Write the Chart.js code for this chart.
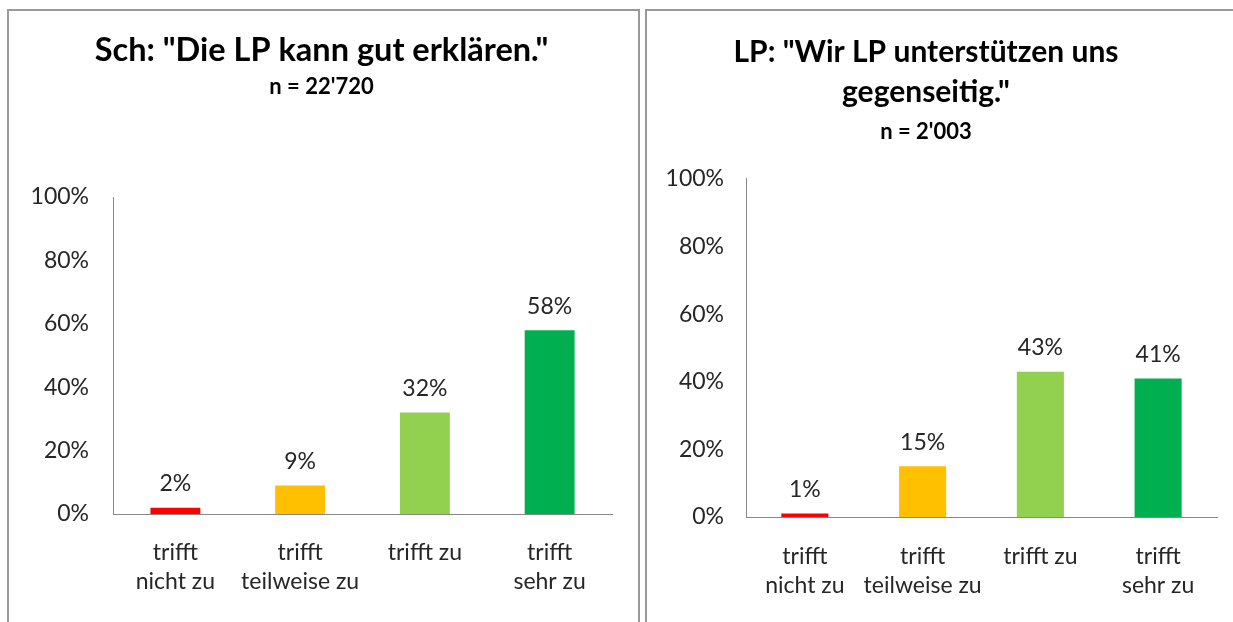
<!DOCTYPE html>
<html>
<head>
<meta charset="utf-8">
<script src="https://cdn.jsdelivr.net/npm/chart.js@4"></script>
<style>
    html, body { margin: 0; padding: 0; background: #fff; }
    body { width: 1233px; height: 622px; position: relative; overflow: hidden; }
    .frame { position: absolute; border: 2px solid #999; border-bottom: none; z-index: 2; pointer-events: none; }
    #frameLeft { left: 7px; top: 9px; width: 629px; height: 620px; }
    #frameRight { left: 645px; top: 9px; width: 600px; height: 620px; border-right: none; }
    .box { position: absolute; top: 0; height: 622px; }
    #boxLeft { left: 0; width: 642px; }
    #boxRight { left: 630px; width: 603px; }
</style>
</head>
<body>
<div class="frame" id="frameLeft"></div>
<div class="frame" id="frameRight"></div>
<div class="box" id="boxLeft"><canvas id="chartSch"></canvas></div>
<div class="box" id="boxRight"><canvas id="chartLp"></canvas></div>
<script>
const categories = [['trifft', 'nicht zu'], ['trifft', 'teilweise zu'], 'trifft zu', ['trifft', 'sehr zu']];
const schValues = [2, 9, 32, 58];
const lpValues = [1, 15, 43, 41];
const barColors = ['#FF0000', '#FFC000', '#92D050', '#00B050'];

const fontFamily = 'Lato, "Open Sans", sans-serif';
const textColor = '#262626';

// draws the percent label above each bar
const valueLabels = {
    id: 'valueLabels',
    afterDatasetsDraw(chart) {
        const ctx = chart.ctx;
        const meta = chart.getDatasetMeta(0);
        ctx.save();
        ctx.font = '23px ' + fontFamily;
        ctx.fillStyle = textColor;
        ctx.textAlign = 'center';
        ctx.textBaseline = 'middle';
        meta.data.forEach((bar, i) => {
            ctx.fillText(chart.data.datasets[0].data[i] + '%', bar.x, bar.y - 24);
        });
        ctx.restore();
    }
};

function buildBarChart(canvasId, values, cfg) {
    const chartCtx = document.getElementById(canvasId).getContext('2d');

    return new Chart(chartCtx, {
        type: 'bar',
        data: {
            labels: categories,
            datasets: [{
                data: values,
                backgroundColor: barColors,
                borderWidth: 0,
                barPercentage: 0.4,
                categoryPercentage: 1
            }]
        },
        options: {
            responsive: true,
            maintainAspectRatio: false,
            animation: false,
            layout: {
                padding: { left: cfg.padLeft, right: cfg.padRight, top: 0, bottom: 0 }
            },
            plugins: {
                legend: { display: false },
                tooltip: { enabled: false },
                title: {
                    display: true,
                    text: cfg.title,
                    color: '#000',
                    font: { family: fontFamily, size: cfg.titleSize, weight: 'bold', lineHeight: cfg.titleLineHeight },
                    padding: { top: cfg.titleTop, bottom: 0 }
                },
                subtitle: {
                    display: true,
                    text: cfg.subtitle,
                    color: '#000',
                    font: { family: fontFamily, size: 22, weight: 'bold', lineHeight: 1.2 },
                    padding: { top: cfg.subTop, bottom: cfg.subBottom }
                }
            },
            scales: {
                x: {
                    grid: { display: false, drawTicks: false },
                    border: { display: true, color: '#888', width: 1 },
                    ticks: {
                        color: textColor,
                        padding: cfg.xPad,
                        font: { family: fontFamily, size: 23, lineHeight: 1.26 },
                        autoSkip: false,
                        maxRotation: 0,
                        minRotation: 0
                    },
                    afterFit: scale => { scale.height = cfg.xHeight; }
                },
                y: {
                    min: 0,
                    max: 100,
                    grid: { display: false, drawTicks: false },
                    border: { display: true, color: '#888', width: 1 },
                    ticks: {
                        stepSize: 20,
                        color: textColor,
                        padding: cfg.yPad,
                        font: { family: fontFamily, size: 23 },
                        callback: v => v + '%'
                    },
                    afterFit: scale => { scale.width = cfg.yWidth; }
                }
            }
        },
        plugins: [valueLabels]
    });
}

window.addEventListener('load', () => {
    buildBarChart('chartSch', schValues, {
        title: 'Sch: "Die LP kann gut erklären."',
        subtitle: "n = 22'720",
        titleSize: 32.5,
        titleLineHeight: 1.2,
        titleTop: 31.5,
        subTop: 3.3,
        subBottom: 96.8,
        padLeft: 31,
        padRight: 30,
        yWidth: 82,
        yPad: 24,
        xPad: 24.5,
        xHeight: 108
    });
    buildBarChart('chartLp', lpValues, {
        title: ['LP: "Wir LP unterstützen uns', 'gegenseitig."'],
        subtitle: "n = 2'003",
        titleSize: 30,
        titleLineHeight: 1.3333,
        titleTop: 32,
        subTop: 6.8,
        subBottom: 33.8,
        padLeft: 5,
        padRight: 16,
        yWidth: 111,
        yPad: 22,
        xPad: 25.5,
        xHeight: 105
    });
});
</script>
</body>
</html>
